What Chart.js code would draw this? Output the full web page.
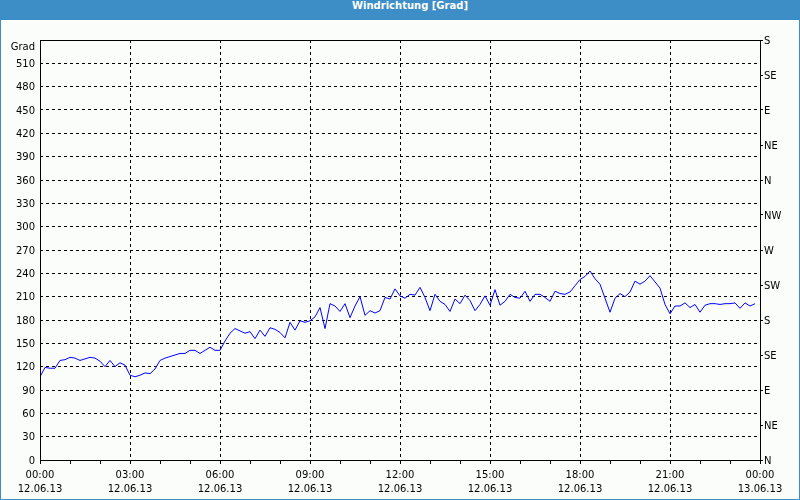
<!DOCTYPE html>
<html>
<head>
<meta charset="utf-8">
<script src="https://cdn.jsdelivr.net/npm/chart.js@4/dist/chart.umd.min.js"></script>
<style>
  body { margin: 0; background: #3d8ec7; }
  #wrap { position: relative; width: 800px; height: 500px; background: #3d8ec7; overflow: hidden; }
  #title { position: absolute; left: 20px; top: 0; width: 780px; height: 20px; line-height: 21px;
           text-align: center; color: #fff; font: bold 10px "DejaVu Sans", sans-serif; }
  #box { position: absolute; left: 1px; top: 20px; width: 798px; height: 479px; background: #fbfdfb; }
</style>
</head>
<body>
<div id="wrap">
  <div id="title">Windrichtung [Grad]</div>
  <div id="box"><canvas id="c" width="798" height="479"></canvas></div>
</div>
<script>
// one reading every 10 minutes, 12.06.13 00:00 .. 23:50
const stepMinutes = 10;
const windDir = [
  107, 119, 118, 118, 128, 129, 132, 131, 128, 130,
  132, 131, 127, 120, 128, 120, 125, 122, 109, 107,
  109, 112, 111, 117, 128, 131, 133, 135, 137, 137,
  141, 141, 137, 141, 145, 141, 141, 153, 163, 169,
  166, 163, 165, 156, 167, 159, 170, 168, 164, 157,
  177, 167, 179, 177, 179, 184, 196, 169, 201, 198,
  191, 201, 183, 198, 210, 186, 192, 189, 192, 209,
  207, 220, 211, 208, 213, 212, 222, 209, 192, 213,
  204, 200, 191, 207, 201, 212, 205, 192, 200, 211,
  199, 219, 199, 204, 213, 209, 208, 217, 204, 213,
  213, 209, 204, 217, 214, 213, 216, 224, 232, 236,
  243, 233, 226, 208, 190, 208, 214, 210, 216, 230,
  226, 230, 237, 229, 221, 200, 188, 198, 198, 202,
  196, 200, 190, 199, 201, 201, 200, 201, 201, 202,
  195, 202, 198, 201
];

const timeLabels = ['00:00', '03:00', '06:00', '09:00', '12:00', '15:00', '18:00', '21:00', '00:00'];
const dateLabels = ['12.06.13', '12.06.13', '12.06.13', '12.06.13', '12.06.13', '12.06.13', '12.06.13', '12.06.13', '13.06.13'];
const unitLabel = 'Grad';
const compassLabels = ['N', 'NE', 'E', 'SE', 'S', 'SW', 'W', 'NW', 'N', 'NE', 'E', 'SE', 'S'];

const points = windDir.map((v, i) => ({ x: i * stepMinutes, y: v }));

const font = { family: 'DejaVu Sans', size: 10 };

// solid frame round the plot area
const frame = {
  id: 'frame',
  afterDraw(chart) {
    const a = chart.chartArea;
    const ctx = chart.ctx;
    ctx.save();
    ctx.strokeStyle = '#000';
    ctx.lineWidth = 1;
    ctx.setLineDash([]);
    ctx.strokeRect(Math.round(a.left) + 0.5, Math.round(a.top) + 0.5,
                   Math.round(a.right - a.left), Math.round(a.bottom - a.top));
    ctx.restore();
  }
};

new Chart(document.getElementById('c'), {
  type: 'line',
  data: {
    datasets: [{
      data: points,
      borderColor: '#0000ff',
      borderWidth: 1,
      pointRadius: 0,
      tension: 0,
      fill: false
    }]
  },
  options: {
    responsive: false,
    animation: false,
    layout: { padding: { top: 20, left: 0, right: 0, bottom: 0 } },
    plugins: { legend: { display: false }, tooltip: { enabled: false } },
    scales: {
      x: {
        type: 'linear',
        min: 0,
        max: 1440,
        afterFit(s) { s.height = 39; },
        ticks: {
          stepSize: 60,
          autoSkip: false,
          maxRotation: 0,
          maxTicksLimit: 30,
          padding: 4,
          color: '#000',
          font: { family: 'DejaVu Sans', size: 10, lineHeight: 1.4 },
          callback: v => v % 180 === 0 ? [timeLabels[v / 180], dateLabels[v / 180]] : ''
        },
        grid: {
          color: c => (c.tick && c.tick.value % 180 === 0) ? '#000' : 'rgba(0,0,0,0)',
          tickColor: '#000',
          tickLength: 4,
          tickBorderDash: []
        },
        border: { display: false, dash: [3, 3] }
      },
      y: {
        position: 'left',
        min: 0,
        max: 540,
        afterFit(s) { s.width = 39; },
        ticks: {
          stepSize: 30,
          autoSkip: false,
          maxTicksLimit: 30,
          padding: 5,
          labelOffset: 1,
          color: '#000',
          font: font,
          // top tick carries the unit, pushed one line down into the plot height
          callback: v => v === 540 ? ['', unitLabel] : v
        },
        grid: { color: '#000', drawTicks: false },
        border: { display: false, dash: [3, 3] }
      },
      y2: {
        position: 'right',
        min: 0,
        max: 540,
        afterFit(s) { s.width = 39; },
        ticks: {
          stepSize: 45,
          autoSkip: false,
          maxTicksLimit: 30,
          padding: 1,
          labelOffset: 1,
          color: '#000',
          font: font,
          callback: v => compassLabels[v / 45]
        },
        grid: { drawOnChartArea: false, tickColor: '#000', tickLength: 3 },
        border: { display: false }
      }
    }
  },
  plugins: [frame]
});
</script>
</body>
</html>
